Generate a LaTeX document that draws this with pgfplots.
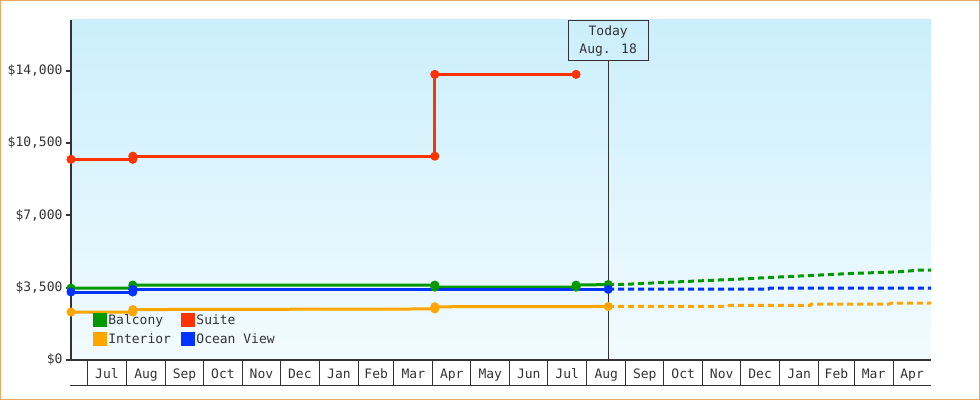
\documentclass[border=0pt]{standalone}
\usepackage{fontspec}
\setmainfont{DejaVu Sans Mono}
\usepackage{pgfplots}
\pgfplotsset{compat=1.18}

\definecolor{axisgray}{HTML}{333333}
\definecolor{balcony}{HTML}{009900}
\definecolor{suite}{HTML}{FF3300}
\definecolor{interior}{HTML}{FFA500}
\definecolor{oceanview}{HTML}{0033FF}
\definecolor{frameorange}{HTML}{E8A862}
\definecolor{skytop}{HTML}{CBEFFC}
\definecolor{skybottom}{HTML}{F2FBFF}

% x = days since Jul 1 of the first year; Today = Aug 18 of the next year (413)
\begin{document}
\begin{tikzpicture}[font=\fontsize{13bp}{15bp}\selectfont]
\begin{axis}[
  scale only axis,
  width=860bp, height=340bp,
  xmin=-13, xmax=669,
  ymin=0, ymax=16450,
  scaled y ticks=false,
  clip=false,
  axis x line*=bottom, axis y line*=left,
  axis line style={axisgray, line width=2bp, -},
  axis background/.style={top color=skytop, bottom color=skybottom, draw=none},
  ytick={0,3500,7000,10500,14000},
  yticklabels={\$0,{\$3,500},{\$7,000},{\$10,500},{\$14,000}},
  xtick={15.5,46.5,77,107.5,138,168.5,199.5,229,258.5,289,319.5,350,380.5,411.5,442,472.5,503,533.5,564.5,594,623.5,654},
  xticklabels={Jul,Aug,Sep,Oct,Nov,Dec,Jan,Feb,Mar,Apr,May,Jun,Jul,Aug,Sep,Oct,Nov,Dec,Jan,Feb,Mar,Apr},
  minor xtick={0,31,62,92,123,153,184,215,243,274,304,335,365,396,427,457,488,518,549,580,608,639},
  tick align=outside,
  major tick length=5bp,
  minor tick length=25bp,
  major x tick style={draw=none},
  minor x tick style={axisgray, line width=1bp},
  major y tick style={axisgray, line width=2bp},
  ticklabel style={text=axisgray},
  xticklabel style={anchor=base, yshift=-13bp},
  legend columns=2,
  legend cell align=left,
  legend style={at={(rel axis cs:0.0256,0.139)}, anchor=north west,
    draw=none, fill=none, inner sep=0pt, text=axisgray,
    nodes={inner sep=1.2bp}, row sep=5bp,
    /tikz/every even column/.append style={column sep=9bp}},
  legend image code/.code={\fill[#1] (0bp,-5.5bp) rectangle (11bp,5.5bp);},
  every axis plot/.append style={line width=3bp, mark size=4bp,
    mark options={solid, line width=1bp}},
]
% forecasts
\addplot[balcony, dash pattern=on 6bp off 4bp, forget plot] coordinates {
  (413,3650) (426,3660) (446,3720) (486,3830) (517,3915) (540,3990)
  (574,4090) (605,4185) (644,4270) (660,4350) (669,4350)};
\addplot[oceanview, dash pattern=on 6bp off 4bp, forget plot] coordinates {
  (413,3430) (540,3430) (541,3480) (669,3480)};
\addplot[interior, dash pattern=on 6bp off 4bp, forget plot] coordinates {
  (413,2590) (508,2590) (509,2640) (573,2640) (574,2705) (636,2705)
  (637,2755) (669,2755)};

% history
\addplot[balcony, mark=*] coordinates {
  (-13,3480) (36,3480) (36,3625) (275.5,3625) (275.5,3528)
  (387.5,3528) (387.5,3625) (413,3650)};
\addlegendentry{Balcony}
\addplot[suite, mark=*] coordinates {
  (-13,9710) (36,9710) (36,9860) (275.5,9860) (275.5,13820) (387.5,13820)};
\addlegendentry{Suite}
\addplot[interior, mark=*] coordinates {
  (-13,2320) (36,2320) (36,2440) (275.5,2470) (275.5,2575) (413,2590)};
\addlegendentry{Interior}
\addplot[oceanview, mark=*] coordinates {
  (-13,3290) (36,3290) (36,3420) (413,3420)};
\addlegendentry{Ocean View}

\draw[axisgray, line width=1bp] ([yshift=-25bp]axis cs:-13.8,0) -- ([yshift=-25bp]axis cs:669,0);
\node[draw=axisgray, line width=1bp, minimum width=80bp, minimum height=40bp,
  inner sep=0pt, align=center, anchor=north, text=axisgray,
  font=\fontsize{13bp}{18bp}\selectfont] (today) at (axis cs:413,16450) {Today\\Aug. 18};
\draw[axisgray, line width=1bp] (axis cs:413,0) -- (today.south);
\coordinate (ll) at (rel axis cs:0,0);
\coordinate (ur) at (rel axis cs:1,1);
\end{axis}
\draw[frameorange, line width=1bp] ([shift={(-70.5bp,-39.5bp)}]ll) rectangle ([shift={(48.5bp,19.5bp)}]ur);
\end{tikzpicture}
\end{document}
